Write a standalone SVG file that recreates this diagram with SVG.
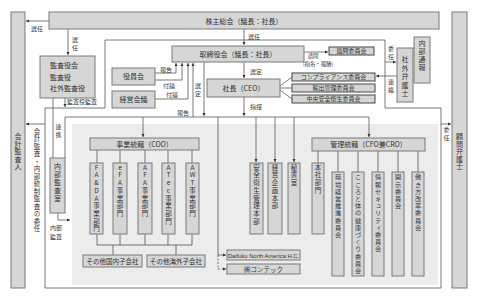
<svg xmlns="http://www.w3.org/2000/svg" width="478" height="299" viewBox="0 0 478 299">
<defs>
<marker id="ah" viewBox="0 0 6 6" refX="6" refY="3" markerWidth="4" markerHeight="4" orient="auto"><path d="M0,0 L6,3 L0,6 z" fill="#333"/></marker>
</defs>
<style>
.box{fill:#d6d6d6;stroke:#7a7a7a;stroke-width:1}
.cbox{fill:#d6d6d6;stroke:#444;stroke-width:1}
.t{font-family:"Noto Sans CJK JP","Noto Sans",sans-serif;font-size:7px;fill:#333}
.s{font-size:6px}
.c{text-anchor:middle}
.v{writing-mode:vertical-rl;text-orientation:upright}
.ln{fill:none;stroke:#555;stroke-width:0.8}
.dash{stroke-dasharray:2 1.5}
.arr{marker-end:url(#ah)}
</style>
<rect width="478" height="299" fill="#fff"/>
<g id="frames">
<rect x="72" y="124" width="366" height="161" fill="#ececec"/>
<path class="ln" d="M105,108 V40 H385 V108 H441 V288 H45 V108 Z"/>
</g>
<g id="connectors">
<path class="ln arr" d="M49,21 H26"/>
<path class="ln arr" d="M68,29 V55"/>
<path class="ln arr" d="M244,29 V45"/>
<path class="ln arr" d="M244,62 V78"/>
<path class="ln arr" d="M244,97 V116"/>
<path class="ln arr" d="M441,124 H451"/>
<path class="ln arr" d="M65,98 V107"/>
<path class="ln arr" d="M304,52 H328"/>
<path class="ln arr" d="M385,62 H396"/>
<path class="ln arr" d="M397,76 H376"/>
<path class="ln" d="M280,86 L292,77 M280,88 H292 M280,90 L292,99"/>
<path class="ln arr" d="M155,73 H176 V63"/>
<path class="ln arr" d="M155,80 H182 V63"/>
<path class="ln arr" d="M155,99 H188 V63"/>
<path class="ln" d="M65,158 V117 H369"/>
<path class="ln arr" d="M193,117 V63"/>
<path class="ln arr" d="M204,62 V116"/>
<path class="ln arr" d="M143,117 V137"/>
<path class="ln arr" d="M369,117 V137"/>
<path class="ln arr" d="M256,117 V162"/>
<path class="ln arr" d="M275,117 V162"/>
<path class="ln arr" d="M294,117 V162"/>
<path class="ln arr" d="M218,117 V255 H226"/>
<path class="ln dash arr" d="M218,255 V269 H226"/>
<path class="ln" d="M53,98 V158"/>
<path class="ln arr" d="M58,213 V220 H70"/>
<path class="ln arr" d="M45,124 H26"/>
<path class="ln" d="M97,150 V163 M120,150 V163 M145,150 V163 M168,150 V163 M192,150 V163"/>
<path class="ln" d="M97,234 V245 M120,234 V245 M145,234 V245 M168,234 V245 M192,234 V245 M97,245 H192 M113,245 V255 M176,245 V255"/>
<path class="ln" d="M318,151 V163 M338,151 V172 M358,151 V172 M378,151 V172 M398,151 V172 M418,151 V172"/>
</g>
<g id="n-kaikei"><rect class="box" x="11" y="12" width="14" height="276"/>
<text class="t v" x="18" y="133" style="letter-spacing:0.5px">会計監査人</text></g>
<g id="n-komon"><rect class="box" x="452" y="12" width="15" height="276"/>
<text class="t v" x="459.5" y="133" style="letter-spacing:0.5px">顧問弁護士</text></g>
<g id="n-kabunushi"><rect class="box" x="49" y="12" width="390" height="17"/>
<text class="t c" x="244" y="23.5">株主総会（議長：社長）</text></g>
<g id="n-kansayaku"><rect class="box" x="40" y="56" width="55" height="42"/>
<text class="t" x="50" y="68">監査役会</text><text class="t" x="50" y="79.5">監査役</text><text class="t" x="50" y="91">社外監査役</text></g>
<g id="n-torishimari"><rect class="box" x="172" y="46" width="132" height="16"/>
<text class="t c" x="238" y="57">取締役会（議長：社長）</text></g>
<g id="n-yakuin"><rect class="box" x="112" y="68" width="43" height="17"/><text class="t c" x="133.5" y="79">役員会</text></g>
<g id="n-keiei"><rect class="box" x="112" y="91" width="43" height="17"/><text class="t c" x="133.5" y="102">経営会議</text></g>
<g id="n-shacho"><rect class="box" x="207" y="79" width="73" height="18"/><text class="t c" x="243.5" y="91">社長（CEO）</text></g>
<g id="n-shimon"><rect class="cbox" x="329" y="47" width="45" height="8"/><text class="t c s" x="351.5" y="53.3">諮問委員会</text></g>
<g id="n-comp"><rect class="cbox" x="292" y="73" width="83" height="8"/><text class="t c s" x="333.5" y="79.3">コンプライアンス委員会</text></g>
<g id="n-yushutsu"><rect class="cbox" x="292" y="84" width="83" height="8"/><text class="t c s" x="333.5" y="90.3">輸出管理委員会</text></g>
<g id="n-chuo"><rect class="cbox" x="292" y="95" width="83" height="8"/><text class="t c s" x="333.5" y="101.3">中央安全衛生委員会</text></g>
<g id="n-naibu-tsuho"><rect class="box" x="414" y="37" width="16" height="46"/>
<text class="t v" x="422" y="40" style="letter-spacing:1px">内部通報</text></g>
<g id="n-shagai-bengo"><rect class="box" x="397" y="48" width="16" height="54"/>
<text class="t v" x="405" y="56" style="letter-spacing:1.5px">社外弁護士</text></g>
<g id="n-naibu-kansa"><rect class="box" x="50" y="158" width="15" height="55"/>
<text class="t v" x="57.5" y="163" style="letter-spacing:1px">内部監査室</text></g>
<g id="n-coo"><rect class="box" x="90" y="138" width="109" height="12"/><text class="t c" x="144.5" y="146.5">事業統轄（COO）</text></g>
<g id="n-cfo"><rect class="box" x="312" y="138" width="113" height="13"/><text class="t c" x="368.5" y="147">管理統轄（CFO兼CRO）</text></g>
<g id="n-fada"><rect class="box" x="90" y="163" width="13" height="71"/>
<text class="t v" x="96.5" y="164" style="font-size:6.5px;letter-spacing:1.2px">FA&amp;DA事業部門</text></g>
<g id="n-efa"><rect class="box" x="113" y="163" width="14" height="71"/>
<text class="t v" x="120" y="164" style="font-size:6.5px;letter-spacing:1.2px">eFA事業部門</text></g>
<g id="n-afa"><rect class="box" x="138" y="163" width="14" height="71"/>
<text class="t v" x="145" y="164" style="font-size:6.5px;letter-spacing:1.2px">AFA事業部門</text></g>
<g id="n-atec"><rect class="box" x="162" y="163" width="13" height="71"/>
<text class="t v" x="168.5" y="164" style="font-size:6.5px;letter-spacing:1.2px">ATec事業部門</text></g>
<g id="n-awt"><rect class="box" x="186" y="163" width="13" height="71"/>
<text class="t v" x="192.5" y="164" style="font-size:6.5px;letter-spacing:1.2px">AWT事業部門</text></g>
<g id="n-anzen"><rect class="box" x="250" y="163" width="13" height="71"/>
<text class="t v" x="256.5" y="164" style="font-size:6.5px;letter-spacing:1.2px">安全衛生管理本部</text></g>
<g id="n-keikaku"><rect class="box" x="268" y="163" width="14" height="71"/>
<text class="t v" x="275" y="164" style="font-size:6.5px;letter-spacing:1.2px">経営企画本部</text></g>
<g id="n-hisho"><rect class="box" x="288" y="163" width="12" height="71"/>
<text class="t v" x="294" y="164" style="font-size:6.5px;letter-spacing:1.2px">秘書室</text></g>
<g id="n-kokunai"><rect class="box" x="83" y="255" width="59" height="12"/><text class="t c" x="112.5" y="263.5" style="font-size:6.5px">その他国内子会社</text></g>
<g id="n-kaigai"><rect class="box" x="147" y="255" width="58" height="12"/><text class="t c" x="176" y="263.5" style="font-size:6.5px">その他海外子会社</text></g>
<g id="n-dna"><rect class="box" x="227" y="250" width="73" height="10"/><text x="263.5" y="257.5" text-anchor="middle" font-family="Liberation Sans, sans-serif" font-size="5.8" fill="#333">Daifuku North America H.C.</text></g>
<g id="n-contec"><rect class="box" x="227" y="264" width="73" height="10"/><text class="t c" x="263.5" y="271.5" style="font-size:6.5px">㈱コンテック</text></g>
<g id="n-honsha"><rect class="box" x="312" y="163" width="12" height="71"/>
<text class="t v" x="318" y="164" style="font-size:6.5px;letter-spacing:1.2px">本社部門</text></g>
<g id="n-kankyo"><rect class="box" x="332" y="172" width="12" height="104"/>
<text class="t v" x="338" y="174" style="font-size:6.2px;letter-spacing:1px">環境経営推進委員会</text></g>
<g id="n-kokoro"><rect class="box" x="352" y="172" width="12" height="104"/>
<text class="t v" x="358" y="174" style="font-size:6.2px;letter-spacing:1px">こころと体の健康づくり委員会</text></g>
<g id="n-joho"><rect class="box" x="372" y="172" width="12" height="104"/>
<text class="t v" x="378" y="174" style="font-size:6.2px;letter-spacing:1px">情報セキュリティ委員会</text></g>
<g id="n-kaiji"><rect class="box" x="392" y="172" width="12" height="104"/>
<text class="t v" x="398" y="174" style="font-size:6.2px;letter-spacing:1px">開示委員会</text></g>
<g id="n-hataraki"><rect class="box" x="412" y="172" width="12" height="104"/>
<text class="t v" x="418" y="174" style="font-size:6.2px;letter-spacing:1px">働き方改革委員会</text></g>
<g id="labels">
<text class="t s c" x="37" y="31">選任</text>
<text class="t s v" x="75" y="37" style="letter-spacing:1.5px">選任</text>
<text class="t s" x="248" y="39">選任</text>
<text class="t s" x="250" y="74">選定</text>
<text class="t s" x="250" y="109">指揮</text>
<text class="t s v" x="198" y="83" style="letter-spacing:1.5px">選定</text>
<text class="t s c" x="166" y="71.5">報告</text>
<text class="t s c" x="169" y="88">付議</text>
<text class="t s c" x="172" y="97">付議</text>
<text class="t s c" x="183" y="114.5">報告</text>
<text class="t c" x="313" y="58" style="font-size:5.3px">諮問</text>
<text class="t c" x="318" y="65.5" style="font-size:5.3px">(指名・報酬)</text>
<text class="t s v" x="391" y="46" style="letter-spacing:1.5px">委任</text>
<text class="t s v" x="391" y="79" style="letter-spacing:1.5px">連絡</text>
<text class="t s v" x="446.5" y="127" style="letter-spacing:1.5px">委任</text>
<text class="t s" x="67" y="104">監査役監査</text>
<text class="t s v" x="58.5" y="124" style="letter-spacing:1.5px">連携</text>
<text class="t s c" x="56" y="230">内部</text>
<text class="t s c" x="56" y="239">監査</text>
<text class="t v" x="37" y="128" style="font-size:6.5px;letter-spacing:1px">会計監査・内部統制監査の委任</text>
</g>
</svg>
